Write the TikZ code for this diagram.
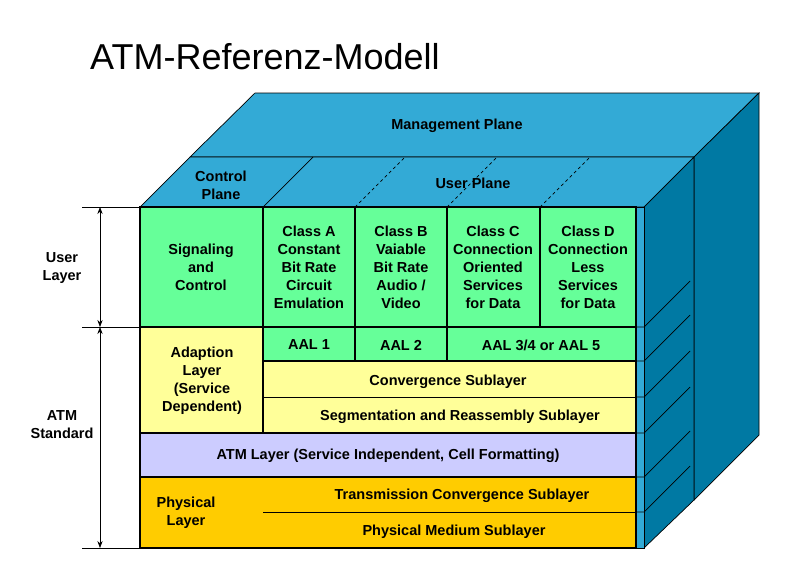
\documentclass[tikz,border=0pt]{standalone}
\usepackage{fontspec}
\setmainfont{Liberation Sans}
\usetikzlibrary{arrows.meta}
\definecolor{planeblue}{HTML}{33AAD6}
\definecolor{sideblue}{HTML}{0079A3}
\definecolor{classgreen}{HTML}{66FF99}
\definecolor{aalyellow}{HTML}{FFFF99}
\definecolor{atmlilac}{HTML}{CCCCFF}
\definecolor{phyorange}{HTML}{FFCC00}
\tikzset{
  lbl/.style={font=\fontsize{14.5}{18}\selectfont\bfseries, align=center, inner sep=0pt},
  cell/.style={draw=black, line width=1.6pt},
  thin/.style={draw=black, line width=0.7pt}
}
\begin{document}
\begin{tikzpicture}[x=1pt,y=-1pt]
  \useasboundingbox (0,0) rectangle (800,579);

  % titel
  \node [font=\fontsize{36}{40}\selectfont, anchor=west, inner sep=0pt] (title) at (90,57) {ATM-Referenz-Modell};

  % oberseite
  \path [fill=planeblue, thin] (190,157) -- (255,93) -- (759,93) -- (694,157) -- cycle;
  \path [fill=planeblue, thin] (140,207) -- (190,157) -- (694,157) -- (644,207) -- cycle;
  \draw [thin] (263,207) -- (313,157);
  \foreach \x in {355,447,540}
    \draw [thin, dashed] (\x,207) -- (\x+50,157);

  % seitenflaechen
  \path [fill=sideblue, thin] (694,157) -- (759,93) -- (759,435) -- (694,500) -- cycle;
  \path [fill=sideblue, thin] (644,207) -- (694,157) -- (694,500) -- (644,548) -- cycle;
  \path [fill=planeblue, thin] (636,207) rectangle (644,548);
  \foreach \y in {327,361,397,433,477,512}
    \draw [thin] (636,\y) -- (644,\y) -- (690,\y-46);

  % front
  \path [fill=classgreen, cell] (140,207) rectangle (263,327);
  \foreach \a/\b in {263/355,355/447,447/540,540/636}
    \path [fill=classgreen, cell] (\a,207) rectangle (\b,327);
  \path [fill=aalyellow, cell] (140,327) rectangle (263,433);
  \path [fill=classgreen, cell] (263,327) rectangle (355,361);
  \path [fill=classgreen, cell] (355,327) rectangle (447,361);
  \path [fill=classgreen, cell] (447,327) rectangle (636,361);
  \path [fill=aalyellow, cell] (263,361) rectangle (636,433);
  \draw [thin] (263,397) -- (636,397);
  \path [fill=atmlilac, cell] (140,433) rectangle (636,477);
  \path [fill=phyorange, cell] (140,477) rectangle (636,548);
  \draw [thin] (263,512) -- (636,512);

  % texte
  \node [lbl] (mgmt) at (457,126) {Management Plane};
  \node [lbl] (ctrl) at (221,185) {Control\\Plane};
  \node [lbl] (user) at (473,183) {User Plane};
  \node [lbl] (sig) at (201,267) {Signaling\\and\\Control};
  \node [lbl] (clA) at (309,267) {Class A\\Constant\\Bit Rate\\Circuit\\Emulation};
  \node [lbl] (clB) at (401,267) {Class B\\Vaiable\\Bit Rate\\Audio /\\Video};
  \node [lbl] (clC) at (493,267) {Class C\\Connection\\Oriented\\Services\\for Data};
  \node [lbl] (clD) at (588,267) {Class D\\Connection\\Less\\Services\\for Data};
  \node [lbl] (aal1) at (309,345) {AAL 1};
  \node [lbl] (aal2) at (401,345) {AAL 2};
  \node [lbl] (aal5) at (541,345) {AAL 3/4 or AAL 5};
  \node [lbl] (adapt) at (202,381) {Adaption\\Layer\\(Service\\Dependent)};
  \node [lbl] (cs) at (448,382) {Convergence Sublayer};
  \node [lbl] (sar) at (460,417) {Segmentation and Reassembly Sublayer};
  \node [lbl] (atm) at (388,456) {ATM Layer (Service Independent, Cell Formatting)};
  \node [lbl] (phy) at (186,513) {Physical\\Layer};
  \node [lbl] (tc) at (462,496) {Transmission Convergence Sublayer};
  \node [lbl] (pm) at (454,532) {Physical Medium Sublayer};

  % linke skala
  \coordinate (top) at (100,207);
  \coordinate (mid) at (100,327);
  \coordinate (bot) at (100,548);
  \foreach \y in {207,327,548}
    \draw [thin] (82,\y) -- (140,\y);
  \draw [thin, {Stealth[length=7pt]}-{Stealth[length=7pt]}] (top) -- (mid);
  \draw [thin, {Stealth[length=7pt]}-{Stealth[length=7pt]}] (mid) -- (bot);
  \node [lbl] (ulayer) at (62,268) {User\\Layer};
  \node [lbl] (atmstd) at (62,425) {ATM\\Standard};
\end{tikzpicture}
\end{document}
